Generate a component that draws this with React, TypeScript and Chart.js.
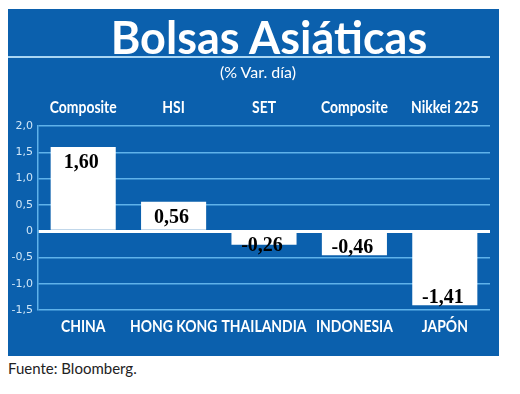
import React, { useEffect, useRef } from "react";
import { Chart, registerables } from "chart.js";

Chart.register(...registerables);

const countries = ["CHINA", "HONG KONG", "THAILANDIA", "INDONESIA", "JAPÓN"];
const indices = ["Composite", "HSI", "SET", "Composite", "Nikkei 225"];
const changes = [1.6, 0.56, -0.26, -0.46, -1.41];
const yMin = -1.5;
const yMax = 2.0;
const yStep = 0.5;

const BLUE = "#0b60ad";
const GRID = "#5fb2ea";
const TICK = "#cfe6f8";
const LABEL_FONT = "bold 17px Lato, 'Open Sans', sans-serif";
const CONDENSE = 0.82;

const fmt = (v: number, d: number) => (v === 0 ? "0" : v.toFixed(d).replace(".", ","));

const valueLabels = {
  id: "valueLabels",
  afterDatasetsDraw(chart: any) {
    const ctx = chart.ctx;
    const meta = chart.getDatasetMeta(0);
    ctx.save();
    ctx.font = "bold 20px 'Liberation Serif', serif";
    ctx.fillStyle = "#000";
    ctx.textAlign = "center";
    ctx.textBaseline = "alphabetic";
    meta.data.forEach((bar: any, i: number) => {
      const v = changes[i];
      const x = bar.x - 2;
      let y;
      if (v >= 0) {
        y = bar.y + 21;
      } else {
        y = Math.max(bar.base + 18, bar.y - 2);
      }
      ctx.fillText(fmt(v, 2), x, y);
    });
    ctx.restore();
  },
};

// Category labels drawn in a condensed style (no condensed font is installed)
const condensedLabels = {
  id: "condensedLabels",
  afterDraw(chart: any) {
    const ctx = chart.ctx;
    const xs = chart.scales.x;
    const area = chart.chartArea;
    ctx.save();
    ctx.font = LABEL_FONT;
    ctx.fillStyle = "#ffffff";
    ctx.textAlign = "center";
    ctx.textBaseline = "middle";
    const draw = (text: string, x: number, y: number) => {
      ctx.save();
      ctx.translate(x, y);
      ctx.scale(CONDENSE, 1);
      ctx.fillText(text, 0, 0);
      ctx.restore();
    };
    countries.forEach((c, i) => {
      const x = xs.getPixelForValue(i);
      draw(c, x, area.bottom + 17);
      draw(indices[i], x, area.top - 18);
    });
    ctx.restore();
  },
};

export default function App() {
  const ref = useRef<HTMLCanvasElement | null>(null);
  useEffect(() => {
    if (!ref.current) return;
    const chart = new Chart(ref.current, {
      type: "bar",
      data: {
        labels: countries,
        datasets: [
          {
            data: changes,
            backgroundColor: "#ffffff",
            borderWidth: 0,
            barPercentage: 0.72,
            categoryPercentage: 1,
          },
        ],
      },
      options: {
        responsive: false,
        animation: false,
        devicePixelRatio: 1,
        layout: { padding: { left: 0, right: 9, top: 117, bottom: 0 } },
        plugins: { legend: { display: false }, tooltip: { enabled: false } },
        scales: {
          x: {
            type: "category",
            position: "bottom",
            grid: { display: false, drawTicks: false },
            border: { display: false },
            ticks: { display: false },
            afterFit: (s: any) => {
              s.height = 46;
            },
          },
          y: {
            min: yMin,
            max: yMax,
            grid: {
              color: (c: any) => (c.tick && c.tick.value === 0 ? "#ffffff" : GRID),
              lineWidth: (c: any) => (c.tick && c.tick.value === 0 ? 3 : 1.5),
              drawTicks: false,
            },
            border: { display: true, color: GRID, width: 1.5 },
            ticks: {
              stepSize: yStep,
              color: TICK,
              font: { family: "'DejaVu Sans', sans-serif", size: 11 },
              padding: 5,
              callback: (v: any) => fmt(Number(v), 1),
            },
            afterFit: (s: any) => {
              s.width = 31;
            },
          },
        },
      },
      plugins: [valueLabels, condensedLabels],
    });
    return () => chart.destroy();
  }, []);

  return (
    <div style={{ position: "relative", left: -8, top: -8, width: 520, height: 394 }}>
      <div
        style={{
          position: "absolute",
          left: 7,
          top: 9,
          width: 492,
          height: 347,
          background: BLUE,
        }}
      />
      <canvas
        ref={ref}
        width={492}
        height={347}
        style={{ position: "absolute", left: 7, top: 9, width: 492, height: 347 }}
      />
      <div
        style={{
          position: "absolute",
          left: 7,
          top: 9,
          width: 524,
          textAlign: "center",
          color: "#fff",
          fontFamily: "Lato, 'Open Sans', sans-serif",
          fontWeight: 700,
          fontSize: 45,
          lineHeight: "56px",
        }}
      >
        Bolsas Asiáticas
      </div>
      <div
        style={{
          position: "absolute",
          left: 8,
          top: 56,
          width: 482,
          height: 2,
          background: "#a9d6f3",
        }}
      />
      <div
        style={{
          position: "absolute",
          left: 7,
          top: 62,
          width: 502,
          textAlign: "center",
          color: "#fff",
          fontFamily: "Lato, 'Open Sans', sans-serif",
          fontSize: 16,
          lineHeight: "20px",
        }}
      >
        (% Var. día)
      </div>
      <div
        style={{
          position: "absolute",
          left: 8,
          top: 358,
          color: "#222",
          fontFamily: "Lato, 'Open Sans', sans-serif",
          fontSize: 15,
          lineHeight: "20px",
        }}
      >
        Fuente: Bloomberg.
      </div>
    </div>
  );
}
